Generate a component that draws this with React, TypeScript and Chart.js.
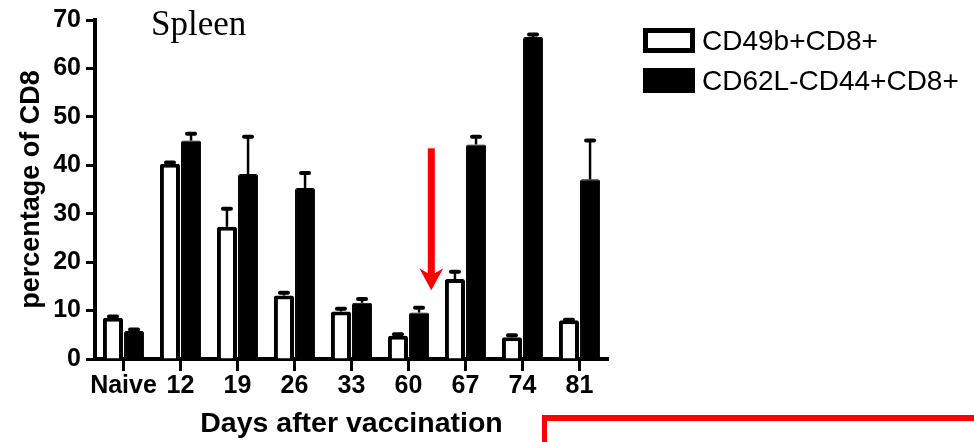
import { useEffect, useRef } from "react";
import { Chart, registerables } from "chart.js";

Chart.register(...registerables);

// Days after vaccination
const categories = ["Naive", "12", "19", "26", "33", "60", "67", "74", "81"];

// CD49b+CD8+ (open bars): mean and upper error
const cd49bMeans = [8.5, 40.3, 27.3, 13.1, 9.8, 4.8, 16.5, 4.5, 8.0];
const cd49bErrors = [0.3, 0.3, 3.7, 0.6, 0.6, 0.3, 1.5, 0.4, 0.1];

// CD62L-CD44+CD8+ (filled bars): mean and upper error
const cd62lMeans = [5.8, 45.1, 38.2, 35.3, 11.6, 9.6, 44.3, 66.5, 37.1];
const cd62lErrors = [0.3, 1.4, 7.7, 3.1, 0.8, 1.0, 1.6, 0.5, 8.0];

const seriesLabels = ["CD49b+CD8+", "CD62L-CD44+CD8+"];
const yTicks = [0, 10, 20, 30, 40, 50, 60, 70];

// Red arrow pointing at day 60 (category position, value range)
const arrowCategory = 5.4;
const arrowFrom = 43.5;
const arrowTo = 14.2;

const SANS = "'Liberation Sans', Arial, Helvetica, sans-serif";
const SERIF = "'Liberation Serif', 'Times New Roman', serif";

const overlayPlugin = {
  id: "overlay",
  afterDatasetsDraw(chart: any) {
    const { ctx } = chart;
    const yScale = chart.scales.y;
    const errs = [cd49bErrors, cd62lErrors];
    ctx.save();
    ctx.strokeStyle = "#000";
    chart.data.datasets.forEach((ds: any, di: number) => {
      const meta = chart.getDatasetMeta(di);
      meta.data.forEach((bar: any, i: number) => {
        const v = ds.data[i];
        const capY = yScale.getPixelForValue(v + errs[di][i]);
        ctx.lineCap = "butt";
        ctx.lineWidth = 2.5;
        ctx.beginPath();
        ctx.moveTo(bar.x, bar.y);
        ctx.lineTo(bar.x, capY);
        ctx.stroke();
        ctx.lineCap = "round";
        ctx.lineWidth = 4;
        ctx.beginPath();
        ctx.moveTo(bar.x - 4, capY);
        ctx.lineTo(bar.x + 4, capY);
        ctx.stroke();
      });
    });
    ctx.restore();
  },
  afterDraw(chart: any) {
    const { ctx } = chart;
    const xScale = chart.scales.x;
    const yScale = chart.scales.y;
    ctx.save();

    // panel title
    ctx.fillStyle = "#000";
    ctx.font = `35px ${SERIF}`;
    ctx.textAlign = "left";
    ctx.textBaseline = "alphabetic";
    ctx.fillText("Spleen", 151, 35);

    // legend
    const lx = 643;
    const rows = [28, 68];
    chart.data.datasets.forEach((ds: any, di: number) => {
      const top = rows[di];
      ctx.fillStyle = "#000";
      ctx.fillRect(lx, top, 52, 25);
      if (di === 0) {
        ctx.fillStyle = "#fff";
        ctx.fillRect(lx + 5, top + 5, 42, 15);
      }
      ctx.fillStyle = "#000";
      ctx.font = `28px ${SANS}`;
      ctx.textBaseline = "alphabetic";
      ctx.fillText(ds.label, 702, top + 22);
    });

    // arrow
    const i0 = Math.floor(arrowCategory);
    const p0 = xScale.getPixelForValue(i0);
    const p1 = xScale.getPixelForValue(i0 + 1);
    const ax = p0 + (p1 - p0) * (arrowCategory - i0);
    const ay0 = yScale.getPixelForValue(arrowFrom);
    const ay1 = yScale.getPixelForValue(arrowTo);
    ctx.fillStyle = "#ff0000";
    ctx.fillRect(ax - 3.5, ay0, 7, ay1 - ay0 - 14);
    ctx.beginPath();
    ctx.moveTo(ax, ay1);
    ctx.lineTo(ax - 12, ay1 - 22);
    ctx.lineTo(ax, ay1 - 15);
    ctx.lineTo(ax + 12, ay1 - 22);
    ctx.closePath();
    ctx.fill();

    // red frame of the neighbouring panel
    ctx.fillRect(542, 415, chart.width - 542, 6);
    ctx.fillRect(542, 415, 5, chart.height - 415);
    ctx.restore();
  },
};

export default function App() {
  const canvasRef = useRef<HTMLCanvasElement | null>(null);

  useEffect(() => {
    if (!canvasRef.current) return;
    const chart = new Chart(canvasRef.current, {
      type: "bar",
      data: {
        labels: categories,
        datasets: [
          {
            label: seriesLabels[0],
            data: cd49bMeans,
            backgroundColor: "#fff",
            borderColor: "#000",
            borderWidth: 4,
            borderRadius: { topLeft: 2, topRight: 2, bottomLeft: 0, bottomRight: 0 },
            categoryPercentage: 0.74,
            barPercentage: 0.95,
          },
          {
            label: seriesLabels[1],
            data: cd62lMeans,
            backgroundColor: "#000",
            borderColor: "#000",
            borderWidth: 1,
            borderRadius: { topLeft: 2, topRight: 2, bottomLeft: 0, bottomRight: 0 },
            categoryPercentage: 0.74,
            barPercentage: 0.95,
          },
        ],
      },
      options: {
        animation: false,
        responsive: false,
        devicePixelRatio: 1,
        layout: { padding: { top: 16, right: 366, left: 0, bottom: 0 } },
        plugins: {
          legend: { display: false },
          tooltip: { enabled: false },
          title: { display: false },
        },
        scales: {
          x: {
            ticks: {
              color: "#000",
              font: { family: SANS, size: 25, weight: "bold" },
              autoSkip: false,
              maxRotation: 0,
              minRotation: 0,
              padding: 0,
            },
            grid: {
              display: true,
              offset: false,
              drawOnChartArea: false,
              drawTicks: true,
              tickLength: 12,
              tickWidth: 3,
              tickColor: "#000",
            },
            border: { display: true, color: "#000", width: 4 },
            title: {
              display: true,
              text: "Days after vaccination",
              color: "#000",
              font: { family: SANS, size: 28.5, weight: "bold" },
              padding: { top: 0, bottom: 1 },
            },
            afterFit: (s: any) => {
              s.height = 83;
            },
          },
          y: {
            min: 0,
            max: 70,
            afterBuildTicks: (s: any) => {
              s.ticks = yTicks.map((v) => ({ value: v }));
            },
            ticks: {
              color: "#000",
              font: { family: SANS, size: 25, weight: "bold" },
              padding: 5,
            },
            grid: {
              display: true,
              drawOnChartArea: false,
              drawTicks: true,
              tickLength: 9,
              tickWidth: 3,
              tickColor: "#000",
            },
            border: { display: true, color: "#000", width: 4 },
            title: {
              display: true,
              text: "percentage of CD8",
              color: "#000",
              font: { family: SANS, size: 27, weight: "bold" },
              padding: { top: 15, bottom: 0 },
            },
            afterFit: (s: any) => {
              s.width = 95;
            },
          },
        },
      },
      plugins: [overlayPlugin],
    });
    return () => chart.destroy();
  }, []);

  return (
    <div style={{ position: "fixed", left: 0, top: 0, width: 974, height: 442, background: "#fff" }}>
      <canvas ref={canvasRef} width={974} height={442} style={{ display: "block" }} />
    </div>
  );
}
